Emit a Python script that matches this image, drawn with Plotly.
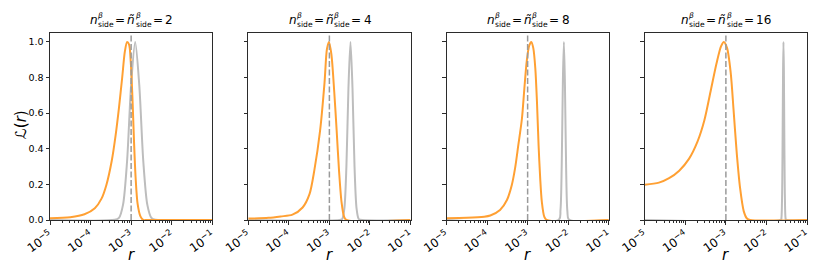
import numpy as np
import plotly.graph_objects as go

# ---------------- data ----------------
panel_n = ["2", "4", "8", "16"]
r_true = 1e-3
y_max = 1.05
y_ticks = [0.0, 0.2, 0.4, 0.6, 0.8, 1.0]

# orange likelihood curves: log10(r) and L(r)
orange_logr_1 = [-5.0, -4.5, -4.15, -3.895, -3.73, -3.61, -3.48, -3.38, -3.30, -3.22, -3.155,
                 -3.10, -3.05, -3.01, -2.97, -2.93, -2.89, -2.84, -2.77, -2.70, -2.6, -1.0]
orange_L_1 = [0.010, 0.016, 0.032, 0.066, 0.12, 0.197, 0.33, 0.48, 0.63, 0.80, 0.945,
              1.0, 0.985, 0.89, 0.70, 0.45, 0.24, 0.09, 0.02, 0.0, 0.0, 0.0]

orange_logr_2 = [-5.0, -4.5, -4.2, -3.91, -3.66, -3.49, -3.37, -3.23, -3.12, -3.06, -3.01,
                 -2.95, -2.88, -2.82, -2.76, -2.70, -2.64, -2.58, -1.0]
orange_L_2 = [0.008, 0.012, 0.02, 0.03, 0.07, 0.145, 0.28, 0.5, 0.77, 0.96, 1.0,
              0.93, 0.72, 0.5, 0.27, 0.1, 0.02, 0.0, 0.0]

orange_logr_3 = [-5.0, -4.5, -4.07, -3.92, -3.68, -3.51, -3.39, -3.31, -3.23, -3.14, -3.08,
                 -3.02, -2.96, -2.91, -2.86, -2.81, -2.77, -2.73, -2.69, -2.65, -2.59, -2.53, -1.0]
orange_L_3 = [0.01, 0.012, 0.018, 0.025, 0.056, 0.112, 0.197, 0.29, 0.42, 0.57, 0.74,
              0.895, 0.98, 1.0, 0.965, 0.85, 0.665, 0.42, 0.234, 0.103, 0.019, 0.0, 0.0]

orange_logr_4 = [-5.0, -4.65, -4.40, -4.15, -3.91, -3.70, -3.53, -3.37, -3.23, -3.12, -3.05,
                 -2.97, -2.88, -2.81, -2.73, -2.65, -2.56, -2.48, -2.40, -1.0]
orange_L_4 = [0.198, 0.21, 0.235, 0.277, 0.343, 0.44, 0.56, 0.73, 0.88, 0.975, 1.0,
              0.965, 0.825, 0.617, 0.37, 0.18, 0.05, 0.008, 0.0, 0.0]

# grey likelihood curves
gray_logr_1 = [-5.0, -3.40, -3.30, -3.20, -3.10, -3.00, -2.90, -2.80, -2.70, -2.60, -2.50, -2.40, -1.0]
gray_L_1 = [0.0, 0.001, 0.012, 0.085, 0.33, 0.76, 1.0, 0.76, 0.33, 0.085, 0.012, 0.001, 0.0]

gray_logr_2 = [-5.0, -2.72, -2.68, -2.63, -2.58, -2.53, -2.48, -2.43, -2.38, -2.33, -2.28, -2.24, -1.0]
gray_L_2 = [0.0, 0.001, 0.007, 0.065, 0.30, 0.74, 1.0, 0.74, 0.30, 0.065, 0.007, 0.001, 0.0]

gray_logr_3 = [-5.0, -2.23, -2.19, -2.16, -2.13, -2.106, -2.08, -2.05, -2.02, -1.98, -1.0]
gray_L_3 = [0.0, 0.002, 0.056, 0.30, 0.79, 1.0, 0.76, 0.28, 0.05, 0.002, 0.0]

gray_logr_4 = [-5.0, -1.64, -1.63, -1.62, -1.61, -1.60, -1.59, -1.58, -1.57, -1.56, -1.55,
               -1.54, -1.53, -1.52, -1.0]
gray_L_4 = [0.0, 0.002, 0.013, 0.063, 0.21, 0.50, 0.84, 1.0, 0.84, 0.50, 0.21,
            0.063, 0.013, 0.002, 0.0]

orange_logr = [orange_logr_1, orange_logr_2, orange_logr_3, orange_logr_4]
orange_L = [orange_L_1, orange_L_2, orange_L_3, orange_L_4]
gray_logr = [gray_logr_1, gray_logr_2, gray_logr_3, gray_logr_4]
gray_L = [gray_L_1, gray_L_2, gray_L_3, gray_L_4]

# ---------------- styling ----------------
W, H = 830, 277
ORANGE = "#ffa033"
GRAY = "#bdbdbd"
DASH = "#9a9a9a"
SPINE = "#2b2b2b"
FONT = "DejaVu Sans"

plot_left, plot_right = 50, 807
gap = 36
pw = (plot_right - plot_left - 3 * gap) / 4
top_px, bot_px = 33, 220

fig = go.Figure()
layout = dict(
    template="none",
    width=W, height=H, margin=dict(l=0, r=0, t=0, b=0, autoexpand=False),
    paper_bgcolor="white", plot_bgcolor="white", showlegend=False,
    font=dict(family=FONT, color="black"),
)
annotations = []

for i in range(4):
    xa = "x" if i == 0 else f"x{i+1}"
    ya = "y" if i == 0 else f"y{i+1}"
    xk = "xaxis" if i == 0 else f"xaxis{i+1}"
    yk = "yaxis" if i == 0 else f"yaxis{i+1}"
    left = plot_left + i * (pw + gap)
    right = left + pw

    fig.add_trace(go.Scatter(
        x=10 ** np.array(gray_logr[i]), y=gray_L[i], mode="lines",
        line=dict(color=GRAY, width=2, shape="spline", smoothing=0.8),
        xaxis=xa, yaxis=ya, hoverinfo="skip"))
    fig.add_trace(go.Scatter(
        x=10 ** np.array(orange_logr[i]), y=orange_L[i], mode="lines",
        line=dict(color=ORANGE, width=2, shape="spline", smoothing=0.8),
        xaxis=xa, yaxis=ya, hoverinfo="skip"))
    fig.add_trace(go.Scatter(
        x=[r_true, r_true], y=[0, y_max], mode="lines",
        line=dict(color=DASH, width=1.5, dash="6px,2.5px"),
        xaxis=xa, yaxis=ya, hoverinfo="skip"))

    layout[xk] = dict(
        type="log", range=[-5, -1], domain=[left / W, right / W], anchor=ya,
        automargin=False,
        showline=True, mirror=True, linecolor=SPINE, linewidth=1,
        ticks="outside", ticklen=3.5, tickwidth=0.8, tickcolor=SPINE,
        dtick=1, exponentformat="power", tickangle=-35,
        tickfont=dict(size=9.5, color="black", family=FONT),
        showgrid=False, zeroline=False,
        minor=dict(ticks="outside", ticklen=2, tickwidth=0.6, tickcolor=SPINE,
                   showgrid=False, dtick="D1"),
    )
    layout[yk] = dict(
        range=[0, y_max], domain=[(H - bot_px) / H, (H - top_px) / H], anchor=xa,
        automargin=False,
        showline=True, mirror=True, linecolor=SPINE, linewidth=1,
        ticks="outside", ticklen=3.5, tickwidth=0.8, tickcolor=SPINE,
        tickvals=y_ticks, tickformat=".1f", showticklabels=(i == 0),
        tickfont=dict(size=9.5, color="black", family=FONT),
        showgrid=False, zeroline=False,
    )

    # x label
    cx = (left + right) / 2
    annotations.append(dict(
        text="<i>r</i>", x=cx / W, y=1 - 255 / H, xref="paper", yref="paper",
        xanchor="center", yanchor="middle", showarrow=False,
        font=dict(size=15, family=FONT, color="black")))

    # title composed of pieces: n^β_side = ñ^β_side = N
    f_main, f_small = 12, 7.6
    total = 76 + 7.6 * len(panel_n[i])
    x0 = cx - total / 2
    pieces = [
        ("<i>n</i>", 0, f_main, 19.5),
        ("<i>β</i>", 8, f_small, 15.5),
        ("side", 8, f_small, 24.5),
        ("=", 25, f_main, 19.5),
        ("<i>ñ</i>", 37, f_main, 19.5),
        ("<i>β</i>", 45.5, f_small, 15.5),
        ("side", 45.5, f_small, 24.5),
        ("=", 62.5, f_main, 19.5),
        (panel_n[i], 75, f_main, 19.5),
    ]
    for txt, off, fs, ypx in pieces:
        annotations.append(dict(
            text=txt, x=(x0 + off) / W, y=1 - ypx / H, xref="paper", yref="paper",
            xanchor="left", yanchor="middle", showarrow=False, borderpad=0,
            font=dict(size=fs, family=FONT, color="black")))

# y label
annotations.append(dict(
    text="ℒ(<i>r</i>)", x=21 / W, y=1 - 125 / H, xref="paper", yref="paper",
    xanchor="center", yanchor="middle", showarrow=False, textangle=-90,
    font=dict(size=15, family=FONT, color="black")))

layout["annotations"] = annotations
fig.update_layout(**layout)
fig.write_html(
    "out.html",
    config={"displayModeBar": False},
    post_script="document.body.style.margin='0px'; document.body.style.padding='0px';",
)
